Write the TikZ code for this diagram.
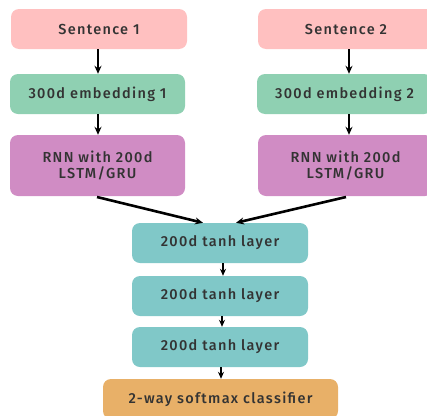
\documentclass[tikz,border=0pt]{standalone}
\usepackage{fontspec}
\setmainfont{Fira Sans}[UprightFont=* Medium, LetterSpace=9]
\usetikzlibrary{arrows.meta}
\definecolor{cpink}{HTML}{FFC0C0}
\definecolor{cgreen}{HTML}{8FD0B2}
\definecolor{cpurple}{HTML}{D08CC4}
\definecolor{cteal}{HTML}{80C8C8}
\definecolor{corange}{HTML}{E8B068}
\begin{document}
\begin{tikzpicture}[x=1pt,y=-1pt,
  box/.style={rounded corners=8pt, draw=none, align=center, font=\fontsize{14.5}{17}\selectfont, text=black!80, inner sep=0pt},
  arr/.style={-{Stealth[length=8pt,width=7pt]}, line width=2.6pt},
  sarr/.style={-{Stealth[length=7pt,width=6pt]}, line width=1.6pt}]
\useasboundingbox (0,0) rectangle (427,415);
\node[box, fill=cpink, minimum width=176pt, minimum height=40pt] (s1) at (99,29) {Sentence 1};
\node[box, fill=cgreen, minimum width=175pt, minimum height=40pt] (e1) at (97.5,94) {300d embedding 1};
\node[box, fill=cpurple, minimum width=175pt, minimum height=61pt] (r1) at (97.5,165.5) {RNN with 200d\\LSTM/GRU};
\node[box, fill=cpink, minimum width=176pt, minimum height=40pt] (s2) at (346,29) {Sentence 2};
\node[box, fill=cgreen, minimum width=175pt, minimum height=40pt] (e2) at (344.5,94) {300d embedding 2};
\node[box, fill=cpurple, minimum width=175pt, minimum height=61pt] (r2) at (345.5,165.5) {RNN with 200d\\LSTM/GRU};
\node[box, fill=cteal, minimum width=176pt, minimum height=40pt] (t1) at (220,243) {200d tanh layer};
\node[box, fill=cteal, minimum width=176pt, minimum height=40pt] (t2) at (220,296) {200d tanh layer};
\node[box, fill=cteal, minimum width=176pt, minimum height=40pt] (t3) at (220,347) {200d tanh layer};
\node[box, fill=corange, minimum width=235pt, minimum height=40pt] (sm) at (220.5,399) {2-way softmax classifier};
\draw[arr] (s1.south -| 98,0) -- (e1.north -| 98,0);
\draw[arr] (e1.south -| 98,0) -- (r1.north -| 98,0);
\draw[arr] (s2.south -| 349,0) -- (e2.north -| 349,0);
\draw[arr] (e2.south -| 349,0) -- (r2.north -| 349,0);
\coordinate (a1) at (97,197);
\coordinate (a2) at (346,197);
\draw[arr] (a1) -- (t1.north -| 203,0);
\draw[arr] (a2) -- (t1.north -| 236,0);
\draw[sarr] (t1.south -| 223,0) -- (t2.north -| 223,0);
\draw[sarr] (t2.south -| 222,0) -- (t3.north -| 222,0);
\draw[sarr] (t3.south -| 221,0) -- (sm.north -| 221,0);
\end{tikzpicture}
\end{document}
